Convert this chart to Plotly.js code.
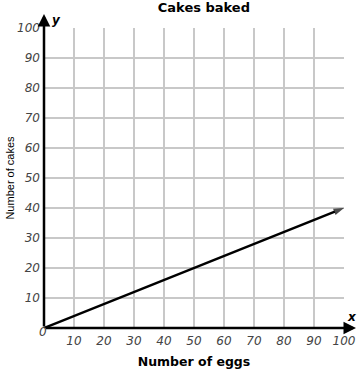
<!DOCTYPE html>
<html><head><meta charset="utf-8">
<script src="https://cdn.plot.ly/plotly-3.0.1.min.js"></script>
<style>html,body{margin:0;padding:0;background:#fff;}#chart{width:364px;height:372px;}</style>
</head><body><div id="chart"></div>
<script>
const eggs = [0, 100];
const cakes = [0, 40];
const xTicks = [10, 20, 30, 40, 50, 60, 70, 80, 90, 100];
const yTicks = [10, 20, 30, 40, 50, 60, 70, 80, 90, 100];
const originLabel = "0";
const titleText = "Cakes baked";
const xTitle = "Number of eggs";
const yTitle = "Number of cakes";

const tickFont = {family: "DejaVu Sans, Verdana, sans-serif", size: 12, color: "#444", style: "italic"};
const letterFont = {family: "DejaVu Sans, Verdana, sans-serif", size: 12, color: "#000"};

const trace = {
  x: eggs, y: cakes, mode: "lines+markers", type: "scatter",
  line: {color: "#000", width: 2.5},
  marker: {symbol: ["circle", "arrow"], size: [0, 11], angleref: "previous", color: "#000", line: {width: 0}},
  cliponaxis: false, hoverinfo: "skip"
};

const layout = {
  width: 364, height: 372,
  margin: {l: 44, r: 20, t: 28, b: 44},
  paper_bgcolor: "#fff", plot_bgcolor: "#fff",
  showlegend: false,
  title: {text: "<b>" + titleText + "</b>", x: 0.533, xanchor: "center", xref: "paper", yref: "container", y: 0.98, yanchor: "middle",
          font: {family: "DejaVu Sans, Verdana, sans-serif", size: 13, color: "#000"}},
  xaxis: {range: [0, 100], tickvals: xTicks, ticktext: xTicks.map(String), tickfont: tickFont,
          showgrid: true, gridcolor: "#c8c8c8", gridwidth: 2, zeroline: false,
          showline: false, ticks: "", ticklabelstandoff: 4, fixedrange: true,
          title: {text: "<b>" + xTitle + "</b>", standoff: 10, font: {family: "DejaVu Sans, Verdana, sans-serif", size: 12.5, color: "#000"}}},
  yaxis: {range: [0, 100], tickvals: yTicks, ticktext: yTicks.map(String), tickfont: tickFont,
          showgrid: true, gridcolor: "#c8c8c8", gridwidth: 2, zeroline: false,
          showline: false, ticks: "", ticklabelstandoff: 3, fixedrange: true,
          title: {text: yTitle, standoff: 0, font: {family: "Liberation Sans Narrow, Liberation Sans, Arial, sans-serif", size: 11, color: "#000"}}},
  annotations: [
    {x: 0, y: 1.047, xref: "paper", yref: "paper", ax: 0, ay: 314, axref: "pixel", ayref: "pixel",
     showarrow: true, arrowhead: 2, arrowsize: 1, arrowwidth: 2.5, arrowcolor: "#000", text: ""},
    {x: 1.04, y: 0, xref: "paper", yref: "paper", ax: -312, ay: 0, axref: "pixel", ayref: "pixel",
     showarrow: true, arrowhead: 2, arrowsize: 1, arrowwidth: 2.5, arrowcolor: "#000", text: ""},
    {x: 0, y: 0, xref: "paper", yref: "paper", xshift: -7, yshift: -13, showarrow: false, text: originLabel, font: tickFont},
    {x: 0, y: 1.035, xref: "paper", yref: "paper", xshift: 6, yshift: 7, showarrow: false, text: "<b><i>y</i></b>", font: letterFont},
    {x: 1.027, y: 0.034, xref: "paper", yref: "paper", xshift: 7, yshift: -8, showarrow: false, text: "<b><i>x</i></b>", font: letterFont}
  ]
};

Plotly.newPlot("chart", [trace], layout, {displayModeBar: false, staticPlot: true});
</script></body></html>
